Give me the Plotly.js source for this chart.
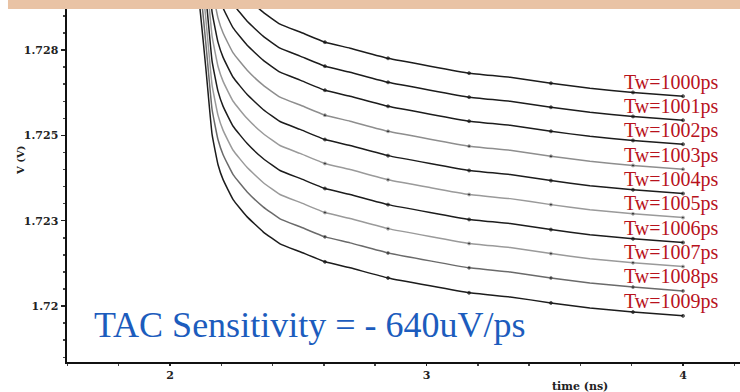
<!DOCTYPE html>
<html>
<head>
<meta charset="utf-8">
<script src="https://cdn.plot.ly/plotly-3.0.1.min.js"></script>
<style>
  html, body { margin: 0; padding: 0; background: #fff; }
  #chart { width: 740px; height: 392px; }
</style>
</head>
<body>
<div id="chart"></div>
<script>
// ---- data ----
const timeNs = [2.097, 2.117, 2.140, 2.164, 2.187, 2.207, 2.246, 2.300, 2.363, 2.429, 2.507,
                2.604, 2.702, 2.850, 3.014, 3.166, 3.326, 3.485, 3.637, 3.805, 4.000];
const sampleTimes = [2.604, 2.850, 3.166, 3.485, 3.805, 4.000];

const twLabels = ["1000", "1001", "1002", "1003", "1004", "1005", "1006", "1007", "1008", "1009"];

const v1000 = [1.73752, 1.73625, 1.73435, 1.73228, 1.73133, 1.73085, 1.73022, 1.72968, 1.72920, 1.72882, 1.72857, 1.72825, 1.72806, 1.72774, 1.72749, 1.72727, 1.72714, 1.72695, 1.72679, 1.72666, 1.72654];
const v1001 = [1.73676, 1.73549, 1.73359, 1.73152, 1.73057, 1.73009, 1.72946, 1.72892, 1.72844, 1.72806, 1.72781, 1.72749, 1.72730, 1.72698, 1.72673, 1.72651, 1.72638, 1.72619, 1.72603, 1.72590, 1.72578];
const v1002 = [1.73600, 1.73473, 1.73283, 1.73076, 1.72981, 1.72933, 1.72870, 1.72816, 1.72768, 1.72730, 1.72705, 1.72673, 1.72654, 1.72622, 1.72597, 1.72575, 1.72562, 1.72543, 1.72527, 1.72514, 1.72502];
const v1003 = [1.73521, 1.73394, 1.73204, 1.72997, 1.72902, 1.72854, 1.72791, 1.72737, 1.72689, 1.72651, 1.72626, 1.72594, 1.72575, 1.72543, 1.72518, 1.72496, 1.72483, 1.72464, 1.72448, 1.72435, 1.72423];
const v1004 = [1.73444, 1.73317, 1.73127, 1.72920, 1.72825, 1.72777, 1.72714, 1.72660, 1.72612, 1.72574, 1.72549, 1.72517, 1.72498, 1.72466, 1.72441, 1.72419, 1.72406, 1.72387, 1.72371, 1.72358, 1.72346];
const v1005 = [1.73368, 1.73241, 1.73051, 1.72844, 1.72749, 1.72701, 1.72638, 1.72584, 1.72536, 1.72498, 1.72473, 1.72441, 1.72422, 1.72390, 1.72365, 1.72343, 1.72330, 1.72311, 1.72295, 1.72282, 1.72270];
const v1006 = [1.73289, 1.73162, 1.72972, 1.72765, 1.72670, 1.72622, 1.72559, 1.72505, 1.72457, 1.72419, 1.72394, 1.72362, 1.72343, 1.72311, 1.72286, 1.72264, 1.72251, 1.72232, 1.72216, 1.72203, 1.72191];
const v1007 = [1.73213, 1.73086, 1.72896, 1.72689, 1.72594, 1.72546, 1.72483, 1.72429, 1.72381, 1.72343, 1.72318, 1.72286, 1.72267, 1.72235, 1.72210, 1.72188, 1.72175, 1.72156, 1.72140, 1.72127, 1.72115];
const v1008 = [1.73136, 1.73009, 1.72819, 1.72612, 1.72517, 1.72469, 1.72406, 1.72352, 1.72304, 1.72266, 1.72241, 1.72209, 1.72190, 1.72158, 1.72133, 1.72111, 1.72098, 1.72079, 1.72063, 1.72050, 1.72038];
const v1009 = [1.73057, 1.72930, 1.72740, 1.72533, 1.72438, 1.72390, 1.72327, 1.72273, 1.72225, 1.72187, 1.72162, 1.72130, 1.72111, 1.72079, 1.72054, 1.72032, 1.72019, 1.72000, 1.71984, 1.71971, 1.71959];

const yTickVals = [1.728, 1.7253, 1.7226, 1.7199];
const yTickText = ["1.728", "1.725", "1.723", "1.72"];
const xTickVals = [2, 3, 4];
const xTickText = ["2", "3", "4"];

const xTitle = "time (ns)";
const yTitle = "V (V)";
const sensitivityText = "TAC Sensitivity = - 640uV/ps";

// ---- styles ----
const serif = "Liberation Serif";
const boldSerif = "DejaVu Serif";
const series = [v1000, v1001, v1002, v1003, v1004, v1005, v1006, v1007, v1008, v1009];
const lineColors = ["#1c1c1c", "#1c1c1c", "#1c1c1c", "#8e8e8e", "#1c1c1c",
                    "#9a9a9a", "#1c1c1c", "#9a9a9a", "#6a6a6a", "#1c1c1c"];

const markerSizes = timeNs.map(t => sampleTimes.indexOf(t) >= 0 ? 3 : 0);

const traces = series.map((ys, i) => ({
  type: "scatter",
  mode: "lines+markers",
  x: timeNs,
  y: ys,
  name: "Tw=" + twLabels[i] + "ps",
  line: { color: lineColors[i], width: 1.5, shape: "spline", smoothing: 0.35 },
  marker: { color: "#111", size: markerSizes },
  showlegend: false,
  hoverinfo: "skip"
}));

const annotations = series.map((ys, i) => ({
  x: timeNs[timeNs.length - 1],
  y: ys[ys.length - 1],
  xref: "x", yref: "y",
  text: "Tw=" + twLabels[i] + "ps",
  showarrow: false,
  xanchor: "center", yanchor: "middle",
  xshift: -12, yshift: 14,
  font: { family: serif, size: 20, color: "#b8121c" }
}));

annotations.push({
  x: 0.037, y: 0.105, xref: "paper", yref: "paper",
  text: sensitivityText, showarrow: false,
  xanchor: "left", yanchor: "middle",
  font: { family: serif, size: 36, color: "#1c5cbd" }
});
annotations.push({
  x: -0.068, y: 0.57, xref: "paper", yref: "paper",
  text: yTitle, showarrow: false, textangle: -90,
  xanchor: "center", yanchor: "middle",
  font: { family: boldSerif, size: 10, color: "#222", weight: "bold" }
});
annotations.push({
  x: 0.762, y: -0.07, xref: "paper", yref: "paper",
  text: xTitle, showarrow: false,
  xanchor: "center", yanchor: "middle",
  font: { family: boldSerif, size: 11, color: "#222", weight: "bold" }
});

const tickFont = { family: boldSerif, size: 11, color: "#222", weight: "bold" };

const layout = {
  width: 740, height: 392,
  margin: { l: 67, r: 0, t: 9, b: 30 },
  paper_bgcolor: "#fff", plot_bgcolor: "#fff",
  xaxis: {
    range: [1.5984, 4.2222],
    tickmode: "array", tickvals: xTickVals, ticktext: xTickText,
    ticks: "outside", ticklen: 2, tickwidth: 1.5, tickcolor: "#222",
    minor: { tickmode: "linear", tick0: 2, dtick: 0.2, ticks: "outside", ticklen: 2, tickcolor: "#444", showgrid: false },
    showline: true, linecolor: "#111", linewidth: 2,
    showgrid: false, zeroline: false,
    tickfont: tickFont,
    fixedrange: true
  },
  yaxis: {
    range: [1.71813, 1.72930],
    tickmode: "array", tickvals: yTickVals, ticktext: yTickText,
    ticks: "outside", ticklen: 4, tickwidth: 1.5, tickcolor: "#222",
    minor: { tickmode: "linear", tick0: 1.728, dtick: 0.00054, ticks: "outside", ticklen: 2, tickcolor: "#444", showgrid: false },
    showline: true, linecolor: "#111", linewidth: 2.5,
    showgrid: false, zeroline: false,
    tickfont: tickFont,
    fixedrange: true
  },
  shapes: [{
    type: "rect", xref: "paper", yref: "paper",
    x0: -0.0877, x1: 1.01, y0: 1.0, y1: 1.03,
    fillcolor: "#e9c3a5", line: { width: 0 }, layer: "above"
  }],
  annotations: annotations
};

Plotly.newPlot("chart", traces, layout, { displayModeBar: false, staticPlot: true });
</script>
</body>
</html>
